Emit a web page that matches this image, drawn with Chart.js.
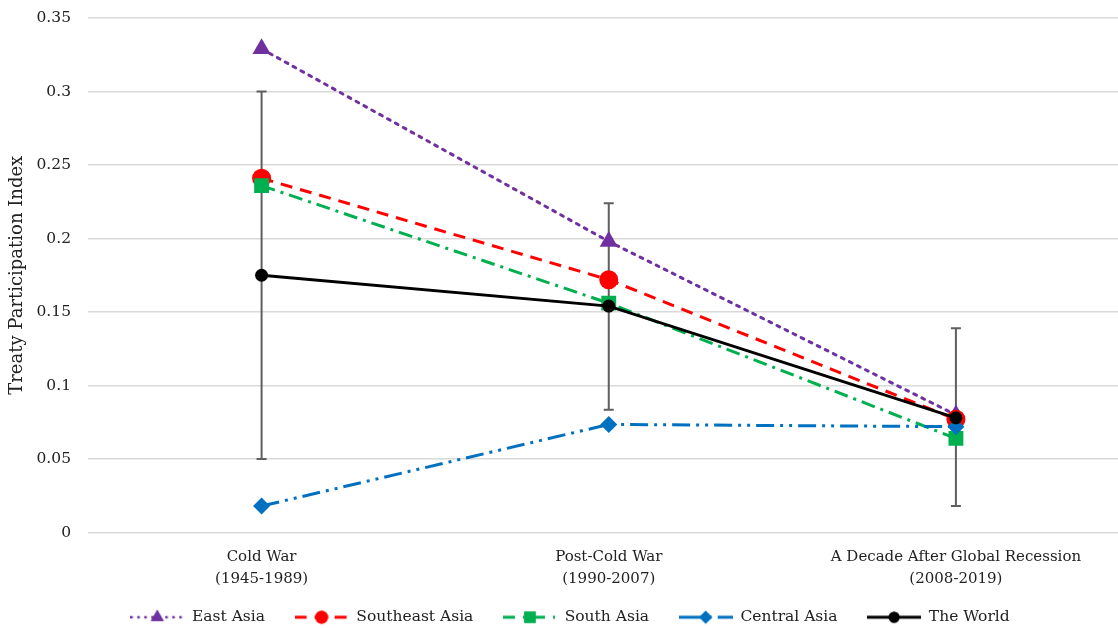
<!DOCTYPE html>
<html>
<head>
<meta charset="utf-8">
<script src="https://cdn.jsdelivr.net/npm/chart.js@4.4.0/dist/chart.umd.min.js"></script>
<style>
  html, body { margin: 0; padding: 0; background: #fff; overflow: hidden; }
  #wrap { width: 1140px; height: 628px; }
</style>
</head>
<body>
<div id="wrap"><canvas id="treatyChart" width="1140" height="628"></canvas></div>
<script>
// Các giai đoạn
const periods = [
    ['Cold War', '(1945-1989)'],
    ['Post-Cold War', '(1990-2007)'],
    ['A Decade After Global Recession', '(2008-2019)']
];
const yTicks = [0, 0.05, 0.1, 0.15, 0.2, 0.25, 0.3, 0.35];

// Giá trị từng khu vực
const eastAsia = [0.329, 0.198, 0.080];
const southeastAsia = [0.241, 0.172, 0.077];
const southAsia = [0.236, 0.156, 0.064];
const centralAsia = [0.018, 0.0735, 0.072];
const theWorld = [0.175, 0.154, 0.078];

// Sai số của thế giới (trên / dưới)
const worldHigh = [0.300, 0.224, 0.139];
const worldLow = [0.050, 0.0835, 0.018];

const FONT = '"DejaVu Serif", serif';

// Vẽ mẫu chú thích: đường + điểm
function legendSwatch(color, dash, style, radius, width) {
    const c = document.createElement('canvas');
    c.width = 54;
    c.height = 22;
    const ctx = c.getContext('2d');
    ctx.strokeStyle = color;
    ctx.lineWidth = width;
    ctx.setLineDash(dash);
    ctx.beginPath();
    ctx.moveTo(0, 11);
    ctx.lineTo(54, 11);
    ctx.stroke();
    ctx.setLineDash([]);
    ctx.fillStyle = color;
    Chart.helpers.drawPoint(ctx, {pointStyle: style, radius: radius, rotation: 0, borderWidth: 0}, 27, 11);
    ctx.fill();
    return c;
}

const errorBars = {
    id: 'errorBars',
    beforeDatasetsDraw(chart) {
        const ctx = chart.ctx;
        const x = chart.scales.x;
        const y = chart.scales.y;
        ctx.save();
        ctx.strokeStyle = '#5f5f5f';
        ctx.lineWidth = 2;
        for (let i = 0; i < periods.length; i++) {
            const px = x.getPixelForValue(i);
            const top = y.getPixelForValue(worldHigh[i]);
            const bot = y.getPixelForValue(worldLow[i]);
            ctx.beginPath();
            ctx.moveTo(px, top);
            ctx.lineTo(px, bot);
            ctx.moveTo(px - 5, top);
            ctx.lineTo(px + 5, top);
            ctx.moveTo(px - 5, bot);
            ctx.lineTo(px + 5, bot);
            ctx.stroke();
        }
        ctx.restore();
    }
};

const datasets = [
    {label: 'East Asia', data: eastAsia, borderColor: '#7030A0', backgroundColor: '#7030A0',
        borderDash: [3, 6], borderCapStyle: 'round', pointStyle: 'triangle', pointRadius: 10.5, order: 5,
        swatch: legendSwatch('#7030A0', [2.5, 4.5], 'triangle', 7.5, 2.5)},
    {label: 'Southeast Asia', data: southeastAsia, borderColor: '#FF0000', backgroundColor: '#FF0000',
        borderDash: [12, 8], pointStyle: 'circle', pointRadius: 9.5, order: 4,
        swatch: legendSwatch('#FF0000', [12, 8], 'circle', 6.5, 3)},
    {label: 'South Asia', data: southAsia, borderColor: '#00B050', backgroundColor: '#00B050',
        borderDash: [14, 6, 3, 6], pointStyle: 'rect', pointRadius: 10.5, order: 3,
        swatch: legendSwatch('#00B050', [12, 8, 2, 8], 'rect', 8, 3)},
    {label: 'Central Asia', data: centralAsia, borderColor: '#0070C0', backgroundColor: '#0070C0',
        borderDash: [18, 6, 3, 6, 3, 6], pointStyle: 'rectRot', pointRadius: 8.5, order: 2,
        swatch: legendSwatch('#0070C0', [24, 6, 3, 6], 'rectRot', 6.5, 3)},
    {label: 'The World', data: theWorld, borderColor: '#000000', backgroundColor: '#000000',
        pointStyle: 'circle', pointRadius: 6.5, order: 1,
        swatch: legendSwatch('#000000', [], 'circle', 5.5, 3)}
];
datasets.forEach(d => {
    d.borderWidth = 3;
    d.pointBorderWidth = 0;
    d.tension = 0;
    d.pointHoverRadius = d.pointRadius;
});

const treatyChart = new Chart(document.getElementById('treatyChart'), {
    type: 'line',
    data: {labels: periods, datasets: datasets},
    options: {
        responsive: false,
        animation: false,
        layout: {padding: {top: 18, right: 0, left: 0, bottom: -7}},
        plugins: {
            tooltip: {enabled: false},
            legend: {
                position: 'bottom',
                labels: {
                    usePointStyle: true,
                    pointStyleWidth: 54,
                    padding: 0,
                    color: '#222',
                    font: {family: FONT, size: 15.5},
                    sort: (a, b) => a.datasetIndex - b.datasetIndex,
                    generateLabels(chart) {
                        const items = Chart.defaults.plugins.legend.labels.generateLabels(chart);
                        const lastIdx = chart.data.datasets.length - 1;
                        items.forEach(it => {
                            it.pointStyle = chart.data.datasets[it.datasetIndex].swatch;
                            // khoảng cách giữa các mục
                            if (it.datasetIndex < lastIdx) it.text += '      ';
                        });
                        return items;
                    }
                }
            }
        },
        scales: {
            x: {
                offset: true,
                grid: {display: false},
                border: {display: false},
                ticks: {color: '#222', font: {family: FONT, size: 15, lineHeight: 1.45}, padding: 6, maxRotation: 0},
                afterFit(scale) {
                    scale.height = 77;
                    scale.paddingLeft = 0;
                    scale.paddingRight = 0;
                }
            },
            y: {
                min: 0,
                max: 0.35,
                afterBuildTicks(scale) { scale.ticks = yTicks.map(v => ({value: v})); },
                grid: {color: '#d9d9d9', lineWidth: 1.5, drawTicks: false},
                border: {display: false},
                ticks: {
                    color: '#222', font: {family: FONT, size: 15.5}, padding: 17,
                    callback: v => String(parseFloat(v.toFixed(2)))
                },
                title: {display: true, text: 'Treaty Participation Index', color: '#222',
                    font: {family: FONT, size: 18}, padding: {top: 7, bottom: 0}},
                afterFit(scale) {
                    scale.width = 88;
                    scale.paddingTop = 0;
                    scale.paddingBottom = 0;
                }
            }
        }
    },
    plugins: [errorBars]
});
</script>
</body>
</html>
